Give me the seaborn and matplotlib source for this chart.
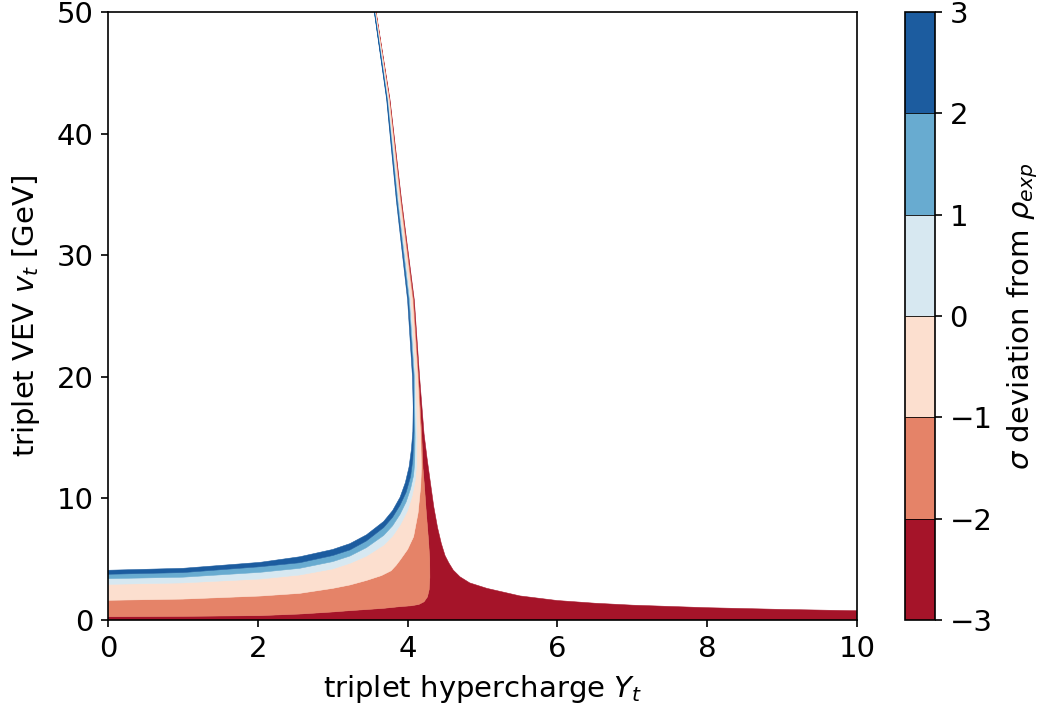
import numpy as np
import matplotlib
matplotlib.use("Agg")
import matplotlib.pyplot as plt
import seaborn as sns
from matplotlib.colors import ListedColormap, BoundaryNorm
from matplotlib.cm import ScalarMappable

# contour levels (sigma deviation from rho_exp)
levels = [-3, -2, -1, 0, 1, 2, 3]

# level curves: (Y_t, v_t) points, from the bottom/left up to the top edge
lvl3_Y = [0, 1.0, 2.03, 2.56, 3.0, 3.23, 3.45, 3.68, 3.80, 3.90, 3.97, 4.02, 4.05, 4.07, 4.075, 4.065, 4.00, 3.85, 3.72, 3.555]
lvl3_vt = [4.09, 4.25, 4.74, 5.2, 5.8, 6.28, 7.0, 8.1, 9.0, 10.1, 11.3, 12.6, 14.0, 15.5, 17.5, 20, 26.3, 34.5, 42.8, 50]

lvl2_Y = [0, 1.0, 2.03, 2.56, 3.0, 3.23, 3.45, 3.68, 3.80, 3.90, 3.98, 4.04, 4.07, 4.085, 4.078, 4.012, 3.859, 3.726, 3.558]
lvl2_vt = [3.76, 3.9, 4.38, 4.71, 5.3, 5.76, 6.5, 7.6, 8.45, 9.45, 10.5, 11.8, 13.2, 15.5, 20, 26.3, 34.5, 42.8, 50]

lvl1_Y = [0, 1.0, 2.03, 2.56, 3.0, 3.23, 3.45, 3.68, 3.80, 3.90, 3.98, 4.04, 4.08, 4.095, 4.10, 4.09, 4.024, 3.869, 3.732, 3.562]
lvl1_vt = [3.40, 3.52, 3.92, 4.25, 4.8, 5.26, 5.95, 6.95, 7.75, 8.7, 9.7, 10.8, 11.9, 13.0, 15, 20, 26.3, 34.5, 42.8, 50]

lvl0_Y = [0, 1.0, 2.03, 2.56, 3.0, 3.23, 3.45, 3.68, 3.80, 3.90, 4.0, 4.06, 4.10, 4.12, 4.125, 4.105, 4.038, 3.880, 3.739, 3.566]
lvl0_vt = [2.93, 3.05, 3.37, 3.70, 4.2, 4.66, 5.25, 6.15, 6.9, 7.8, 9.0, 10.2, 11.4, 12.7, 15, 20, 26.3, 34.5, 42.8, 50]

lvlm1_Y = [0, 1.0, 2.03, 2.56, 3.0, 3.23, 3.45, 3.65, 3.78, 3.85, 3.90, 4.0, 4.08, 4.14, 4.175, 4.185, 4.175, 4.135, 4.066, 3.901, 3.753, 3.573]
lvlm1_vt = [1.62, 1.72, 1.97, 2.19, 2.6, 2.88, 3.25, 3.65, 4.05, 4.52, 4.93, 5.8, 6.85, 8.8, 11, 12.5, 15, 20, 26.3, 34.5, 42.8, 50]

lvlm2_Y = [0, 1.0, 2.03, 2.56, 3.0, 3.23, 3.45, 3.68, 3.90, 4.05, 4.15, 4.22, 4.265, 4.288, 4.297, 4.295, 4.28, 4.25, 4.225, 4.205, 4.19, 4.145, 4.078, 3.911, 3.759, 3.577]
lvlm2_vt = [0.27, 0.30, 0.36, 0.49, 0.66, 0.77, 0.86, 0.96, 1.1, 1.17, 1.28, 1.5, 1.9, 2.5, 3.5, 5.0, 6.5, 8.8, 11, 12.5, 15, 20, 26.3, 34.5, 42.8, 50]

# right-hand boundary of the -3 level (starts at the right edge)
lvlm3_Y = [10, 9, 8, 7, 6.5, 6.0, 5.5, 5.06, 4.83, 4.70, 4.61, 4.55, 4.50, 4.45, 4.40, 4.35, 4.30, 4.26, 4.22, 4.16, 4.09, 3.92, 3.765, 3.58]
lvlm3_vt = [0.76, 0.87, 1.01, 1.22, 1.38, 1.6, 1.98, 2.6, 3.05, 3.55, 4.1, 4.7, 5.3, 6.3, 7.6, 9.3, 11.5, 13.3, 15.3, 20, 26.3, 34.5, 42.8, 50]

sns.set_style("ticks", {"axes.edgecolor": "black", "xtick.color": "black", "ytick.color": "black",
                        "axes.labelcolor": "black", "text.color": "black"})
plt.rcParams['font.family'] = ['DejaVu Sans']
plt.rcParams['font.size'] = 14

cmap = plt.get_cmap('RdBu')
band_colors = [cmap((i + 0.5) / 6) for i in range(6)]

fig = plt.figure(figsize=(1043 / 150, 713 / 150), dpi=150)
ax = fig.add_axes([108 / 1043, 93 / 713, 749 / 1043, 608 / 713])
cax = fig.add_axes([905 / 1043, 93 / 713, 30 / 1043, 608 / 713])

curves = [(lvlm2_Y, lvlm2_vt), (lvlm1_Y, lvlm1_vt), (lvl0_Y, lvl0_vt),
          (lvl1_Y, lvl1_vt), (lvl2_Y, lvl2_vt), (lvl3_Y, lvl3_vt)]

# lowest band: bottom axis, right edge, -3 curve, back down along -2 curve
xs = [0, 10] + lvlm3_Y + lvlm2_Y[::-1]
ys = [0, 0] + lvlm3_vt + lvlm2_vt[::-1]
ax.fill(xs, ys, color=band_colors[0], lw=0.25)

# the other bands sit between two neighbouring level curves
for i in range(5):
    lo, hi = curves[i], curves[i + 1]
    xs = list(lo[0]) + list(hi[0])[::-1]
    ys = list(lo[1]) + list(hi[1])[::-1]
    ax.fill(xs, ys, color=band_colors[i + 1], lw=0.25)

ax.set_xlim(0, 10)
ax.set_ylim(0, 50)
ax.set_xlabel(r"triplet hypercharge $Y_t$", labelpad=5)
ax.set_ylabel(r"triplet VEV $v_t$ [GeV]", labelpad=7)

sm = ScalarMappable(norm=BoundaryNorm(levels, 6), cmap=ListedColormap(band_colors))
cb = fig.colorbar(sm, cax=cax, ticks=levels, drawedges=True)
cb.set_label(r"$\sigma$ deviation from $\rho_{exp}$", labelpad=6)

fig.savefig("out.png", dpi=150)
